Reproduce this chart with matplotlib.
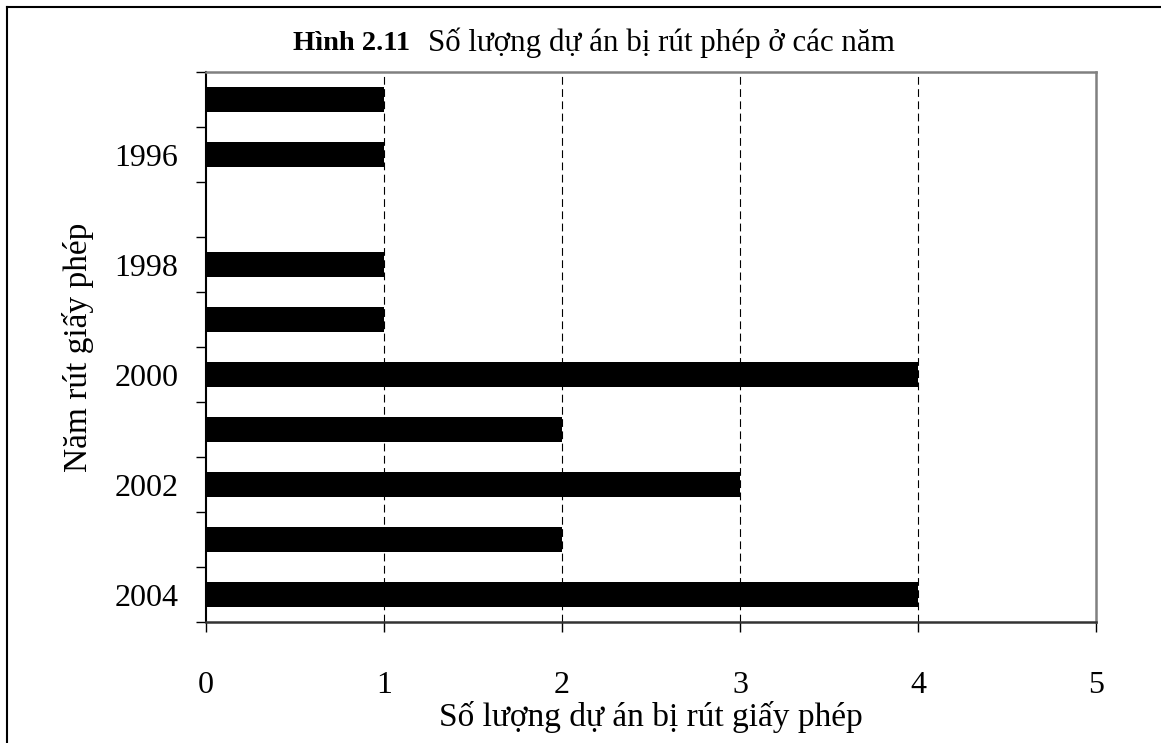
import matplotlib
matplotlib.use("Agg")
import matplotlib.pyplot as plt
from matplotlib.lines import Line2D
import numpy as np

years = [1995, 1996, 1997, 1998, 1999, 2000, 2001, 2002, 2003, 2004]
counts = [1, 1, 0, 1, 1, 4, 2, 3, 2, 4]
shown_labels = ["1996", "1998", "2000", "2002", "2004"]
xticks = [0, 1, 2, 3, 4, 5]

plt.rcParams['font.family'] = ['Liberation Serif', 'DejaVu Serif']

W, H = 1161, 743
fig = plt.figure(figsize=(W / 100, H / 100), dpi=100)
ax = fig.add_axes([206 / W, 1 - 622 / H, (1096 - 206) / W, (622 - 72) / H])

pos = np.arange(len(years))
ax.barh(pos, counts, height=0.45, color='black', zorder=3)
ax.set_ylim(len(years) - 0.5, -0.5)
ax.set_xlim(0, 5)

# labels at every other category
label_pos = [pos[years.index(int(s))] for s in shown_labels]
ax.set_yticks(label_pos)
ax.set_yticklabels(shown_labels, fontsize=23)
ax.set_yticks(np.arange(-0.5, len(years)), minor=True)
ax.tick_params(axis='y', which='major', length=0, pad=20)
ax.tick_params(axis='y', which='minor', length=7, width=1.0, direction='out', color='black')

ax.set_xticks(xticks)
ax.set_xticklabels([str(v) for v in xticks], fontsize=23)
ax.tick_params(axis='x', which='major', length=7, width=1.0, direction='out', pad=28, color='black')

for v in xticks[1:-1]:
    ax.axvline(v, color='black', linewidth=0.8, linestyle=(0, (7, 4)), zorder=1)

ax.spines['left'].set_color('black')
ax.spines['left'].set_linewidth(1.5)
ax.spines['bottom'].set_color('#333333')
ax.spines['bottom'].set_linewidth(1.8)
ax.spines['top'].set_color('#808080')
ax.spines['top'].set_linewidth(1.8)
ax.spines['right'].set_color('#808080')
ax.spines['right'].set_linewidth(1.8)

# axis labels
fig.text(651 / W, 1 - 717 / H, "Số lượng dự án bị rút giấy phép", fontsize=24,
         ha='center', va='center')
fig.text(78 / W, 1 - 347 / H, "Năm rút giấy phép", fontsize=24, rotation=90,
         ha='center', va='center')

# title: bold part + normal part
fig.text(410 / W, 1 - 43 / H, "Hình 2.11", fontsize=20.5, fontweight='bold',
         ha='right', va='center')
fig.text(428 / W, 1 - 43 / H, "Số lượng dự án bị rút phép ở các năm", fontsize=22.3,
         ha='left', va='center')

# figure border (top and left)
fig.add_artist(Line2D([7 / W, 1.0], [1 - 7 / H, 1 - 7 / H], color='black', linewidth=1.5,
                      transform=fig.transFigure))
fig.add_artist(Line2D([7 / W, 7 / W], [0.0, 1 - 7 / H], color='black', linewidth=1.5,
                      transform=fig.transFigure))

fig.savefig("out.png", dpi=100)
